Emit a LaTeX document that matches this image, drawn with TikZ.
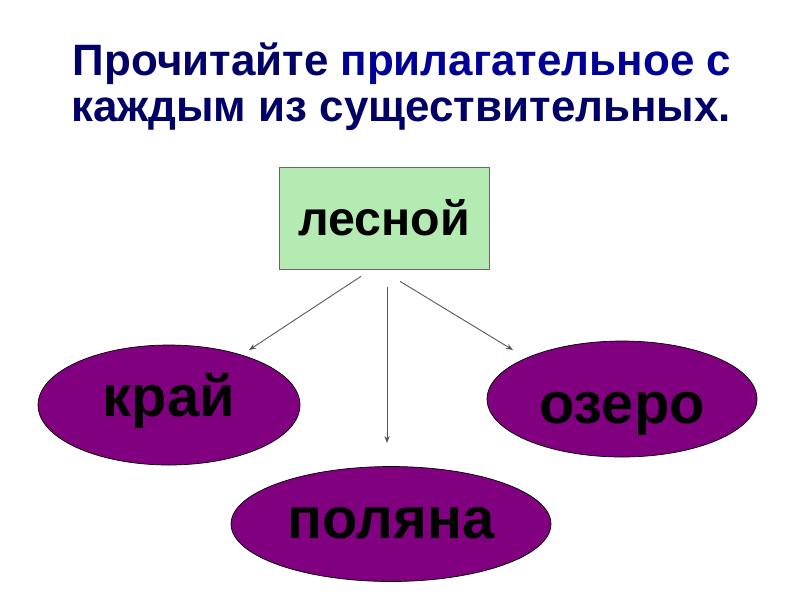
\documentclass[tikz,border=0pt]{standalone}
\usepackage{fontspec}
\setmainfont{Liberation Sans}
\usepackage{tikz}
\usetikzlibrary{shapes,calc,arrows.meta}

\definecolor{titleblue}{RGB}{0,0,102}
\definecolor{wordblue}{RGB}{0,0,150}
\definecolor{boxgreen}{RGB}{179,235,179}
\definecolor{ovalpurple}{RGB}{128,0,128}
\definecolor{arrowgray}{RGB}{85,85,85}

\tikzset{
  titletext/.style={titleblue,font=\fontsize{25}{29}\selectfont\bfseries},
  adjbox/.style={draw=gray!80!black,fill=boxgreen,minimum width=4.2cm,minimum height=2.04cm,inner sep=0pt,font=\fontsize{27.5}{30}\selectfont\bfseries},
  nounoval/.style={ellipse,draw=black,fill=ovalpurple,inner sep=0pt,text depth=6.6pt,font=\fontsize{33}{36}\selectfont\bfseries},
  link/.style={draw=arrowgray,line width=0.5pt,-{Stealth[length=4pt,width=3pt]}}
}

\begin{document}
\begin{tikzpicture}[x=0.02cm,y=0.02cm]
  % Frame
  \useasboundingbox (0,0) rectangle (800,-600);
  % Title
  \node[titletext] (title1) at (402,-64)
    {Прочитайте \textcolor{wordblue}{прилагательное с}};
  \node[titletext] (title2) at (401,-114)
    {каждым из существительных.};
  % Nodes
  \node[adjbox] (adj) at (384,-218) {лесной};
  \node[nounoval,text height=20pt,minimum width=5.24cm,minimum height=2.4cm] (kraj) at (169,-405) {край};
  \node[nounoval,text height=35pt,minimum width=5.4cm,minimum height=2.32cm] (ozero) at (622,-399) {озеро};
  \node[nounoval,text height=23pt,minimum width=6.4cm,minimum height=2.3cm] (polyana) at (391,-524) {поляна};
  % Coordinates
  \coordinate (kraj-in) at (249,-350);
  \coordinate (polyana-in) at (387,-443);
  \coordinate (ozero-in) at (513,-350);
  % Links
  \draw[link] ($(adj.south)+(-23,-7)$) -- (kraj-in);
  \draw[link] ($(adj.south)+(3,-18)$) -- (polyana-in);
  \draw[link] ($(adj.south)+(16,-12)$) -- (ozero-in);
\end{tikzpicture}
\end{document}
